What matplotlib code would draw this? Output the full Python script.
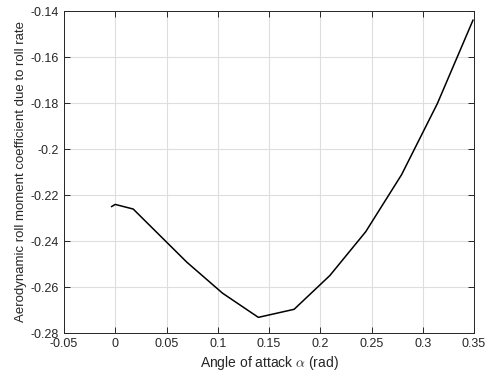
import numpy as np
import matplotlib.pyplot as plt

plt.rcParams['font.family'] = ['Liberation Sans', 'DejaVu Sans']
plt.rcParams['mathtext.fontset'] = 'cm'

# angle of attack (rad) and roll damping coefficient
alpha = [-0.0035, 0.0, 0.0175, 0.0698, 0.1047, 0.1396, 0.1745, 0.2094, 0.2443, 0.2793, 0.3142, 0.3490]
clp = [-0.2250, -0.2241, -0.2261, -0.2492, -0.2627, -0.2732, -0.2697, -0.2550, -0.2360, -0.2112, -0.1803, -0.1440]

xticks = [-0.05, 0, 0.05, 0.1, 0.15, 0.2, 0.25, 0.3, 0.35]
xticklabels = ['-0.05', '0', '0.05', '0.1', '0.15', '0.2', '0.25', '0.3', '0.35']
yticks = [-0.28, -0.26, -0.24, -0.22, -0.2, -0.18, -0.16, -0.14]
yticklabels = ['-0.28', '-0.26', '-0.24', '-0.22', '-0.2', '-0.18', '-0.16', '-0.14']

fig = plt.figure(figsize=(4.9, 3.78), dpi=100)
ax = fig.add_axes([64 / 490, 1 - 333 / 378, 410 / 490, 322 / 378])

ax.plot(alpha, clp, color='black', lw=1.1)

ax.set_xlim(-0.05, 0.35)
ax.set_ylim(-0.28, -0.14)
ax.set_xticks(xticks)
ax.set_xticklabels(xticklabels)
ax.set_yticks(yticks)
ax.set_yticklabels(yticklabels)
ax.grid(True, color='#dedede', lw=0.8)
ax.set_axisbelow(True)
ax.tick_params(direction='in', top=True, right=True, length=4, width=0.7,
               labelsize=9, colors='#262626', labelcolor='#262626')
for s in ax.spines.values():
    s.set_color('#262626')
    s.set_linewidth(0.7)

ax.set_xlabel(r'Angle of attack $\alpha$ (rad)', fontsize=10, color='#262626', labelpad=3)
ax.set_ylabel('Aerodynamic roll moment coefficient due to roll rate', fontsize=9.5,
              color='#262626', labelpad=3)

fig.savefig('out.png', dpi=100)
